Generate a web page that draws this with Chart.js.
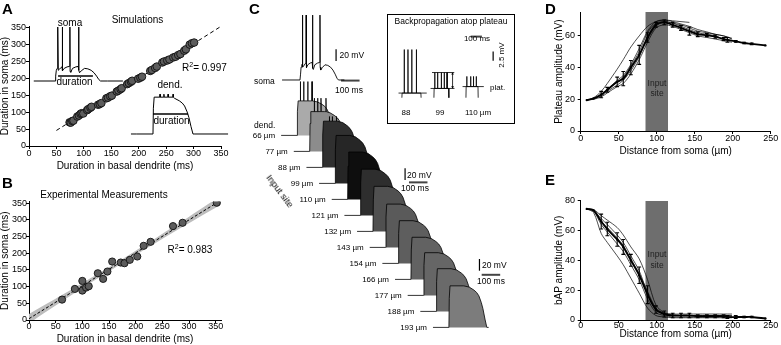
<!DOCTYPE html>
<html>
<head>
<meta charset="utf-8">
<title>Plateau duration and amplitude</title>
<script src="https://cdn.jsdelivr.net/npm/chart.js@4.4.1/dist/chart.umd.min.js"></script>
<style>
  body { margin: 0; background: #fff; }
  #fig { position: relative; width: 781px; height: 345px; overflow: hidden;
         font-family: "Liberation Sans", Arial, sans-serif; color: #000; }
  #fig canvas { position: absolute; }
  .t { position: absolute; white-space: nowrap; line-height: 1; font-size: 10px; }
  .c { transform: translate(-50%, -50%); }
  .l { transform: translate(0, -50%); }
  .s { font-size: 8.5px; }
  .xs { font-size: 8px; }
  .panel { position: absolute; font-weight: bold; font-size: 15px; line-height: 15px; }
  sup { font-size: 7px; line-height: 0; vertical-align: 4px; }
  #bpbox { position: absolute; left: 387px; top: 14px; width: 128px; height: 110px;
           border: 1px solid #000; box-sizing: border-box; }
</style>
</head>
<body>
<div id="fig">
  <canvas id="chartA" width="235" height="172" style="left:0;top:0"></canvas>
  <canvas id="insetSoma" width="98" height="70" style="left:30px;top:18px"></canvas>
  <canvas id="insetDend" width="102" height="60" style="left:128px;top:80px"></canvas>
  <canvas id="chartB" width="235" height="173" style="left:0;top:172px"></canvas>
  <canvas id="chartC" width="290" height="345" style="left:240px;top:0"></canvas>
  <div id="bpbox"></div>
  <canvas id="chartBP" width="126" height="108" style="left:388px;top:15px"></canvas>
  <canvas id="chartD" width="236" height="165" style="left:545px;top:0"></canvas>
  <canvas id="chartE" width="236" height="175" style="left:545px;top:170px"></canvas>

  <div class="panel" style="left:2px;top:1px">A</div>
  <div class="panel" style="left:2px;top:175px">B</div>
  <div class="panel" style="left:249px;top:1px">C</div>
  <div class="panel" style="left:545px;top:1px">D</div>
  <div class="panel" style="left:545px;top:172px">E</div>

  <div class="t c" style="left:137.5px;top:20px">Simulations</div>
  <div class="t c" style="left:70px;top:23px">soma</div>
  <div class="t c" style="left:74.5px;top:82px">duration</div>
  <div class="t l" style="left:182px;top:68px">R<sup>2</sup>= 0.997</div>
  <div class="t c" style="left:170px;top:85px">dend.</div>
  <div class="t c" style="left:171.5px;top:121px">duration</div>
  <div class="t c" style="left:104px;top:195px">Experimental Measurements</div>
  <div class="t l" style="left:167.5px;top:250px">R<sup>2</sup>= 0.983</div>

  <div class="t l s" style="left:254px;top:81px">soma</div>
  <div class="t l s" style="left:254px;top:125px">dend.</div>
  <div class="t l s" style="left:339.5px;top:55px">20 mV</div>
  <div class="t c s" style="left:349px;top:90px">100 ms</div>
  <div class="t l s" style="left:407px;top:174.5px">20 mV</div>
  <div class="t c s" style="left:415px;top:187.5px">100 ms</div>
  <div class="t l s" style="left:482px;top:265px">20 mV</div>
  <div class="t c s" style="left:491px;top:281px">100 ms</div>
  <div class="t" style="left:280px;top:191px;font-size:9.5px;transform:translate(-50%,-50%) rotate(53deg)">Input site</div>

  <div class="t c s" style="left:451px;top:21px">Backpropagation atop plateau</div>
  <div class="t c xs" style="left:477px;top:38.5px">100 ms</div>
  <div class="t xs" style="left:502px;top:55px;transform:translate(-50%,-50%) rotate(-90deg)">2.5 mV</div>
  <div class="t l xs" style="left:490px;top:88px">plat.</div>
  <div class="t c xs" style="left:406px;top:113px">88</div>
  <div class="t c xs" style="left:440px;top:113px">99</div>
  <div class="t c xs" style="left:478px;top:113px">110 µm</div>

  <div class="t c s" style="left:657px;top:82.5px;color:#222">Input</div>
  <div class="t c s" style="left:657px;top:92.5px;color:#222">site</div>
  <div class="t c s" style="left:657px;top:253.5px;color:#222">Input</div>
  <div class="t c s" style="left:657px;top:265px;color:#222">site</div>
</div>

<script>
// A: simulated plateau duration, basal dendrite vs soma (ms)
const simDend = [74, 76, 79, 81, 88, 91, 94, 96, 99, 106, 108, 112, 114, 126, 129, 132, 141, 144, 148, 151,
                 160, 163, 167, 169, 179, 182, 186, 188, 199, 203, 206, 221, 224, 230, 233, 243, 246, 252, 256,
                 263, 267, 272, 276, 283, 286, 293, 297, 301];
const simSoma = [70, 69, 74, 75, 87, 90, 95, 97, 96, 106, 109, 113, 116, 122, 124, 127, 141, 143, 147, 149,
                 161, 164, 168, 171, 183, 186, 190, 193, 199, 202, 205, 222, 225, 231, 235, 247, 250, 253, 256,
                 262, 264, 269, 272, 282, 286, 300, 304, 306];
const simFitX = [50, 350];
const simFitY = [46, 354];

// B: experimental measurements (ms)
const expDend = [62, 86, 100, 100, 107, 112, 129, 139, 147, 156, 172, 179, 189, 203, 215, 228, 270, 288, 352];
const expSoma = [61, 93, 117, 88, 97, 101, 140, 123, 145, 175, 172, 170, 180, 190, 222, 234, 281, 291, 351];
const expFitX = [0, 360];
const expFitY = [4, 358.6];
const expBandX = [0, 90, 180, 270, 360];
const expBandLo = [-10, 85, 175, 262, 346];
const expBandHi = [18, 101, 187, 278, 372];

// soma trace (ms from plateau onset, mV above rest), used in A inset and C
const somaT = [-97, 0, 3, 6, 10, 12, 13, 15, 20, 28, 32, 33, 35, 42, 55, 66, 68, 69, 72, 80, 95, 106, 108, 109,
               112, 120, 135, 150, 165, 178, 190, 200, 208, 240];
const somaV = [0, 0, 10, 22, 26, 27, 111, 22, 24, 28, 29, 111, 21, 26, 29, 30, 111, 20, 18, 26, 29, 30, 111, 22,
               17, 21, 26, 25, 22, 17, 10, 3, 0, 0];

// dendritic plateau shape (ms, fraction of plateau height)
const plateauShapeT = [-86, 0, 2, 6, 80, 110, 135, 150, 162, 175, 184, 195, 205, 215];
const plateauShapeF = [0, 0, 0.7, 1, 1, 0.97, 0.9, 0.84, 0.76, 0.6, 0.45, 0.2, 0, 0];

// C: recording sites along the basal dendrite
const dendSites = [66, 77, 88, 99, 110, 121, 132, 143, 154, 166, 177, 188, 193];     // µm
const dendAmp = [59, 68, 79, 82, 81, 79, 77, 74, 73, 72, 73, 73, 71];                 // mV
const dendSpikeT = [[18, 36, 58, 81], [25, 43, 61, 88], [38, 54, 76], [], [], [], [], [], [], [], [], [], []];
const dendSpikePeak = [92, 91, 87, 0, 0, 0, 0, 0, 0, 0, 0, 0, 0];

// A inset: dendritic trace and the duration bars
const insetDendAmp = 63;
const insetDendSpikeT = [36, 56, 77, 103];
const insetDendSpikePeak = 68;
const somaDuration = [14, 173];
const dendDuration = [0, 180];

// C inset: backpropagating APs atop the plateau
const bpPlat = [1.25, 2.5, 3];
const bpPeak = [13, 6.8, 5.75];
const bpSpikeT = [[21, 54, 88, 129], [8, 33, 66, 92, 117], [8, 42, 67, 92]];
const bpDur = [171, 133, 109];

// D, E: amplitude vs distance from soma
const distMean = [8, 17, 27, 35, 48, 56, 66, 77, 88, 99, 110, 121, 132, 143, 154, 166, 177, 188, 193, 204, 215, 225, 243];
const plateauMean = [19.5, 20.5, 23, 26, 31, 33, 40, 48, 59, 67, 68.5, 67, 65, 63, 61, 60.5, 59.5, 58, 57.5, 56.5, 55.5, 55, 54];
const plateauErr = [0, 0, 2, 1.5, 3, 4.5, 4.5, 6, 3, 1.5, 1.5, 1.5, 1.5, 2.5, 1.5, 1, 1, 1, 1.5, 0.5, 0.5, 0.5, 0];
const bapMean = [74.5, 73.5, 66, 61, 54, 49, 40, 30, 17, 7, 4, 3, 3, 3, 2.5, 2.5, 2.5, 2.5, 2, 2, 2, 2, 1];
const bapErr = [0, 0, 5, 4.5, 4.5, 5, 4, 5.5, 6, 2.5, 2, 1.5, 1.5, 1.5, 1, 1, 1, 1, 1, 1, 0.5, 0.5, 0];

const distCells = [8, 17, 27, 35, 48, 56, 66, 77, 88, 99, 110, 121, 132, 143, 154, 166, 177, 188, 199];
const plateauCells = [
  [19.5, 21, 25, 30, 39, 45, 53, 60, 66, 69, 70, 69.5, 69, 68.5, null, null, null, null, null],
  [19.5, 20.5, 22, 25, 29, 32, 38, 47, 58, 66, 69, 68, 66, 64, 62, 61, 60, 58, 57],
  [19.5, 20.5, 23, 26, 31, 34, 41, 50, 62, 68, 69, 68, 67, 65, 63, 62, 61, 60, 58],
  [19.5, 20, 21.5, 24, 28, 30, 36, 45, 56, 65, 67, 66, 64, 62, 60, 59, 58, 57, 56],
  [19.5, 20.5, 22.5, 26, 32, 35, 42, 52, 63, 69, 70, 69, 67.5, 66, 64, 62.5, 61, 60, 58.5]
];
const bapCells = [
  [74.5, 72, 58, 52, 43, 37, 28, 18, 8, 3, 2, 1.5, 1.5, 1.5, 1.5, 1.5, 1.5, 1.5, 1.5],
  [74.5, 74, 70, 67, 62, 57, 49, 41, 27, 10, 5, 4, 4, 4, 4, 4, 4, 4, 4],
  [74.5, 73.5, 68, 64, 57, 52, 43, 33, 18, 7, 4, 3, 3, 3, 3, 3, 3, 3, 2.5],
  [74.5, 73, 64, 59, 51, 46, 37, 27, 14, 5, 3, 2, 2, 2, 2, 2, 2, 2, 2],
  [74.5, 73.5, 66, 62, 55, 50, 41, 31, 19, 8, 4.5, 3.5, 3, 3, 3, 3, 3, 3, 3]
];
const inputSite = [85, 115];

// fill shades of the stacked dendritic traces
const dendShades = ['#aaaaaa', '#8c8c8c', '#303030', '#262626', '#0e0e0e', '#2e2e2e', '#505050',
                    '#5a5a5a', '#5e5e5e', '#626262', '#666666', '#6a6a6a', '#7c7c7c'];

Chart.defaults.font.family = '"Liberation Sans", Arial, sans-serif';
Chart.defaults.color = '#000';

function xy(xs, ys) {
  return xs.map((x, i) => ({ x: x, y: ys[i] }));
}

function axis(pos, min, max, step, title, o) {
  return {
    type: 'linear', position: pos, min: min, max: max, z: 1,
    afterFit: s => { if (pos === 'bottom') s.height = o.size; else s.width = o.size; },
    border: { color: '#000', width: 1 },
    grid: { drawOnChartArea: false, tickLength: 3, color: '#000' },
    ticks: { stepSize: step, includeBounds: false, autoSkip: false, maxRotation: 0,
             padding: o.tickPad, font: { size: 9, lineHeight: 1 } },
    title: { display: true, text: title, font: { size: 10, lineHeight: 1 },
             padding: { top: o.titlePad, bottom: o.titlePad } }
  };
}

function plotOptions(x, y, padding) {
  return {
    responsive: false, animation: false, events: [],
    layout: { padding: padding },
    plugins: { legend: { display: false }, tooltip: { enabled: false } },
    scales: { x: x, y: y }
  };
}

function traceOptions(xmin, xmax, ymin, ymax) {
  return {
    responsive: false, animation: false, events: [],
    layout: { padding: 0 },
    plugins: { legend: { display: false }, tooltip: { enabled: false } },
    scales: {
      x: { type: 'linear', display: false, min: xmin, max: xmax },
      y: { type: 'linear', display: false, min: ymin, max: ymax }
    }
  };
}

function line(points, width, extra) {
  return Object.assign({ data: points, borderColor: '#000', borderWidth: width, pointRadius: 0,
                         fill: false, tension: 0 }, extra || {});
}

function plateauTrace(onset, base, amp, spikes, peak) {
  const p = plateauShapeT.map((t, k) => ({ x: onset + t, y: base + plateauShapeF[k] * amp }));
  spikes.forEach(ts => {
    p.push({ x: onset + ts - 0.8, y: base + amp }, { x: onset + ts, y: base + peak },
           { x: onset + ts + 1.2, y: base + amp });
  });
  return p.sort((a, b) => a.x - b.x);
}

function errorBars(xs, ys, errs, cap) {
  const p = [];
  xs.forEach((x, i) => {
    if (!errs[i]) return;
    const lo = ys[i] - errs[i], hi = ys[i] + errs[i];
    p.push({ x: x, y: lo }, { x: x, y: hi }, { x: x, y: null },
           { x: x - cap, y: hi }, { x: x + cap, y: hi }, { x: x, y: null },
           { x: x - cap, y: lo }, { x: x + cap, y: lo }, { x: x, y: null });
  });
  return p;
}

// ---------- A ----------
new Chart(document.getElementById('chartA'), {
  type: 'line',
  data: { datasets: [
    line(xy(simFitX, simFitY), 1, { borderDash: [4, 3], order: 1 }),
    { data: xy(simDend, simSoma), showLine: false, pointRadius: 3.8, pointBackgroundColor: '#5c5c5c',
      pointBorderColor: '#111', pointBorderWidth: 0.9, order: 0 }
  ] },
  options: plotOptions(
    axis('bottom', 0, 350, 50, 'Duration in basal dendrite (ms)', { size: 26, tickPad: 0.5, titlePad: 0.6 }),
    axis('left', 0, 355, 50, 'Duration in soma (ms)', { size: 29, tickPad: 0, titlePad: 0 }),
    { top: 26, right: 14, left: 0, bottom: 0 })
});

new Chart(document.getElementById('insetSoma'), {
  type: 'line',
  data: { datasets: [
    line(xy(somaT, somaV).concat([{ x: 310, y: 0 }]), 1),
    line([{ x: somaDuration[0], y: 10.3 }, { x: somaDuration[1], y: 10.3 }], 1.6)
  ] },
  options: traceOptions(-114.2, 333.3, -14.4, 129.6)
});

new Chart(document.getElementById('insetDend'), {
  type: 'line',
  data: { datasets: [
    line([{ x: -113, y: 0 }].concat(plateauTrace(0, 0, insetDendAmp, insetDendSpikeT, insetDendSpikePeak),
                                    [{ x: 385, y: 0 }]), 1),
    line([{ x: dendDuration[0], y: 34.2 }, { x: dendDuration[1], y: 34.2 }], 1.6)
  ] },
  options: traceOptions(-128.2, 394.9, -10.26, 92.3)
});

// ---------- B ----------
new Chart(document.getElementById('chartB'), {
  type: 'line',
  data: { datasets: [
    line(xy(expBandX, expBandLo), 0, { tension: 0.4, order: 3 }),
    line(xy(expBandX, expBandHi), 0, { tension: 0.4, fill: '-1', backgroundColor: '#bdbdbd', order: 2 }),
    line(xy(expFitX, expFitY), 1, { borderDash: [3, 2], order: 1 }),
    { data: xy(expDend, expSoma), showLine: false, pointRadius: 3.6, pointBackgroundColor: '#5c5c5c',
      pointBorderColor: '#111', pointBorderWidth: 0.9, order: 0 }
  ] },
  options: plotOptions(
    axis('bottom', 0, 360, 50, 'Duration in basal dendrite (ms)', { size: 25, tickPad: -0.8, titlePad: 0.7 }),
    axis('left', 0, 355, 50, 'Duration in soma (ms)', { size: 29, tickPad: -1, titlePad: 0 }),
    { top: 29.4, right: 14, left: 0, bottom: 0 })
});

// ---------- C: stacked traces ----------
const stairT = 68.4, stairV = 27.35;   // staircase step between successive sites
function dendOnset(i) { return -16 + i * stairT; }
function dendBase(i) { return -94.7 - i * stairV; }

const cData = [
  line(xy(somaT, somaV), 0.9, { order: 0 }),
  // scale bars: 20 mV and 100 ms
  line([{ x: 195, y: 32.5 }, { x: 195, y: 52.5 }], 1.2, { order: 0 }),
  line([{ x: 222, y: -1 }, { x: 322, y: -1 }], 2, { borderColor: '#444', order: 0 }),
  line([{ x: 568, y: -171 }, { x: 568, y: -151 }], 1.2, { order: 0 }),
  line([{ x: 589, y: -175 }, { x: 689, y: -175 }], 2, { borderColor: '#444', order: 0 }),
  line([{ x: 970, y: -326 }, { x: 970, y: -306 }], 1.2, { order: 0 }),
  line([{ x: 982, y: -333 }, { x: 1082, y: -333 }], 2, { borderColor: '#444', order: 0 })
];
dendSites.forEach((d, i) => {
  cData.push(line(plateauTrace(dendOnset(i), dendBase(i), dendAmp[i], dendSpikeT[i], dendSpikePeak[i]), 0.8, {
    fill: { value: dendBase(i) }, backgroundColor: dendShades[i], order: dendSites.length - i + 1
  }));
});

const siteLabels = {
  id: 'siteLabels',
  afterDatasetsDraw(chart) {
    const { ctx, scales } = chart;
    ctx.save();
    ctx.font = '8px "Liberation Sans", Arial, sans-serif';
    ctx.fillStyle = '#000';
    ctx.textAlign = 'right';
    ctx.textBaseline = 'middle';
    dendSites.forEach((d, i) => {
      const px = scales.x.getPixelForValue(dendOnset(i) + plateauShapeT[0]) - 6;
      const py = scales.y.getPixelForValue(dendBase(i));
      ctx.fillText(d + ' µm', px, py);
    });
    ctx.restore();
  }
};

new Chart(document.getElementById('chartC'), {
  type: 'line',
  data: { datasets: cData },
  options: traceOptions(-324.3, 1243.2, -453, 136.75),
  plugins: [siteLabels]
});

// ---------- C inset: backpropagation atop plateau ----------
function bpOnset(k) { return 88 + k * 285; }
function bpTrace(k) {
  const on = bpOnset(k), plat = bpPlat[k];
  const p = [{ x: on, y: 0 }, { x: on + 2, y: plat }];
  bpSpikeT[k].forEach(ts => {
    p.push({ x: on + ts - 1, y: plat }, { x: on + ts, y: bpPeak[k] }, { x: on + ts + 1, y: plat });
  });
  p.push({ x: on + bpDur[k] - 2, y: plat }, { x: on + bpDur[k], y: 0 });
  return p;
}
const bpData = [];
bpPlat.forEach((plat, k) => {
  const on = bpOnset(k);
  bpData.push(line(bpTrace(k), 0.8));
  bpData.push(line([{ x: on - 30, y: plat }, { x: on + bpDur[k] + 50, y: plat }], 0.8));
});
const arrowT = bpOnset(1) + bpDur[1] + 33;
bpData.push(line([{ x: bpOnset(1) - 17, y: bpPeak[1] }, { x: arrowT + 15, y: bpPeak[1] }], 0.8));
bpData.push(line([{ x: arrowT, y: bpPlat[1] + 0.35 }, { x: arrowT, y: bpPeak[1] - 0.35 }], 0.8, {
  pointStyle: 'triangle', pointRadius: 1.6, pointRotation: [180, 0],
  pointBackgroundColor: '#000', pointBorderWidth: 0
}));
bpData.push(line([{ x: 700, y: 16.5 }, { x: 800, y: 16.5 }], 2, { borderColor: '#444' }));
bpData.push(line([{ x: 900, y: 10 }, { x: 900, y: 12.5 }], 1.2));

new Chart(document.getElementById('chartBP'), {
  type: 'line',
  data: { datasets: bpData },
  options: traceOptions(0, 1050, -5.75, 21.25)
});

// ---------- D, E ----------
function distanceDatasets(mean, err, cells, top) {
  const ds = [
    line([{ x: inputSite[0], y: top }, { x: inputSite[1], y: top }], 0,
         { fill: 'origin', backgroundColor: '#6e6e6e', order: 30 })
  ];
  cells.forEach(c => ds.push(line(xy(distCells, c), 0.7, { tension: 0.3, order: 2 })));
  ds.push(line(xy(distMean, mean), 1.8, { tension: 0.3, pointRadius: 1.2, pointBackgroundColor: '#000',
                                          pointBorderWidth: 0, order: 1 }));
  ds.push(line(errorBars(distMean, mean, err, 2.5), 1.1, { order: 0 }));
  return ds;
}

new Chart(document.getElementById('chartD'), {
  type: 'line',
  data: { datasets: distanceDatasets(plateauMean, plateauErr, plateauCells, 75) },
  options: plotOptions(
    axis('bottom', 0, 250, 50, 'Distance from soma (µm)', { size: 34, tickPad: 0, titlePad: 8.3 }),
    axis('left', 0, 75, 20, 'Plateau amplitude (mV)', { size: 35.7, tickPad: 2.7, titlePad: 9 }),
    { top: 12.1, right: 10.3, left: 0, bottom: 0 })
});

new Chart(document.getElementById('chartE'), {
  type: 'line',
  data: { datasets: distanceDatasets(bapMean, bapErr, bapCells, 80) },
  options: plotOptions(
    axis('bottom', 0, 250, 50, 'Distance from soma (µm)', { size: 25, tickPad: -1.5, titlePad: 5.5 }),
    axis('left', 0, 80, 20, 'bAP amplitude (mV)', { size: 35.7, tickPad: 2.7, titlePad: 9 }),
    { top: 30.7, right: 10.3, left: 0, bottom: 0 })
});
</script>
</body>
</html>
